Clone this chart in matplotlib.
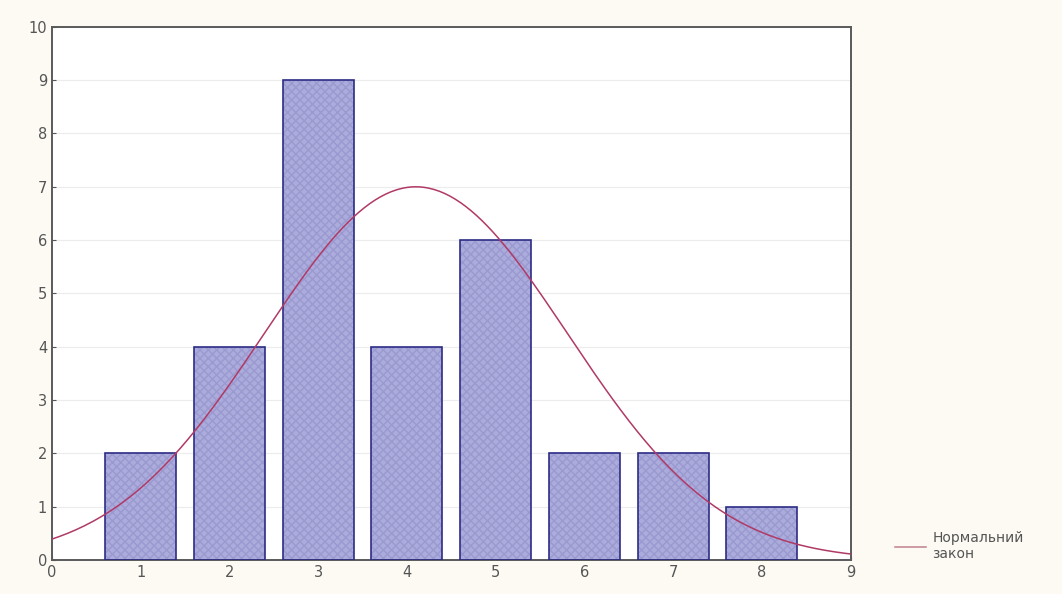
import numpy as np
import matplotlib.pyplot as plt

# ── data ──────────────────────────────────────────────────────────────────────
classes = [1, 2, 3, 4, 5, 6, 7, 8]
counts = [2, 4, 9, 4, 6, 2, 2, 1]

# fitted normal law
norm_mean = 4.1
norm_sigma = 1.71
norm_n = sum(counts)

x_ticks = list(range(0, 10))
y_ticks = list(range(0, 11))

# ── plot ──────────────────────────────────────────────────────────────────────
fig = plt.figure(figsize=(10.62, 5.94), dpi=100)
fig.patch.set_facecolor('#fdfaf3')
ax = fig.add_axes([0.049, 0.057, 0.752, 0.898])
ax.set_facecolor('white')

ax.set_axisbelow(True)
ax.grid(axis='y', color='#ececec', lw=0.8)

# fill with texture, then outline
ax.bar(classes, counts, width=0.8, color='#ababdc', hatch='xxxx',
       edgecolor='#9a9ad0', linewidth=0, zorder=2)
ax.bar(classes, counts, width=0.8, fill=False,
       edgecolor='#2c2c86', linewidth=1.2, zorder=3)

xs = np.linspace(0, 9, 300)
ys = norm_n / (norm_sigma * np.sqrt(2 * np.pi)) * np.exp(-0.5 * ((xs - norm_mean) / norm_sigma) ** 2)
ax.plot(xs, ys, color='#b03a66', lw=1.1, zorder=4, label='Нормальний\nзакон')

ax.set_xlim(0, 9)
ax.set_ylim(0, 10)
ax.set_xticks(x_ticks)
ax.set_yticks(y_ticks)
ax.tick_params(colors='#555555', labelsize=10.5, length=3, direction='in')
for spine in ax.spines.values():
    spine.set_edgecolor('#5a5a5a')
    spine.set_linewidth(1.4)

leg = ax.legend(loc='lower left', bbox_to_anchor=(1.04, -0.025), frameon=False,
                fontsize=10, handlelength=2.2, handletextpad=0.5,
                labelcolor='#555555')
leg.get_lines()[0].set_color('#c08090')

fig.savefig('out.png', dpi=100, facecolor=fig.get_facecolor())
